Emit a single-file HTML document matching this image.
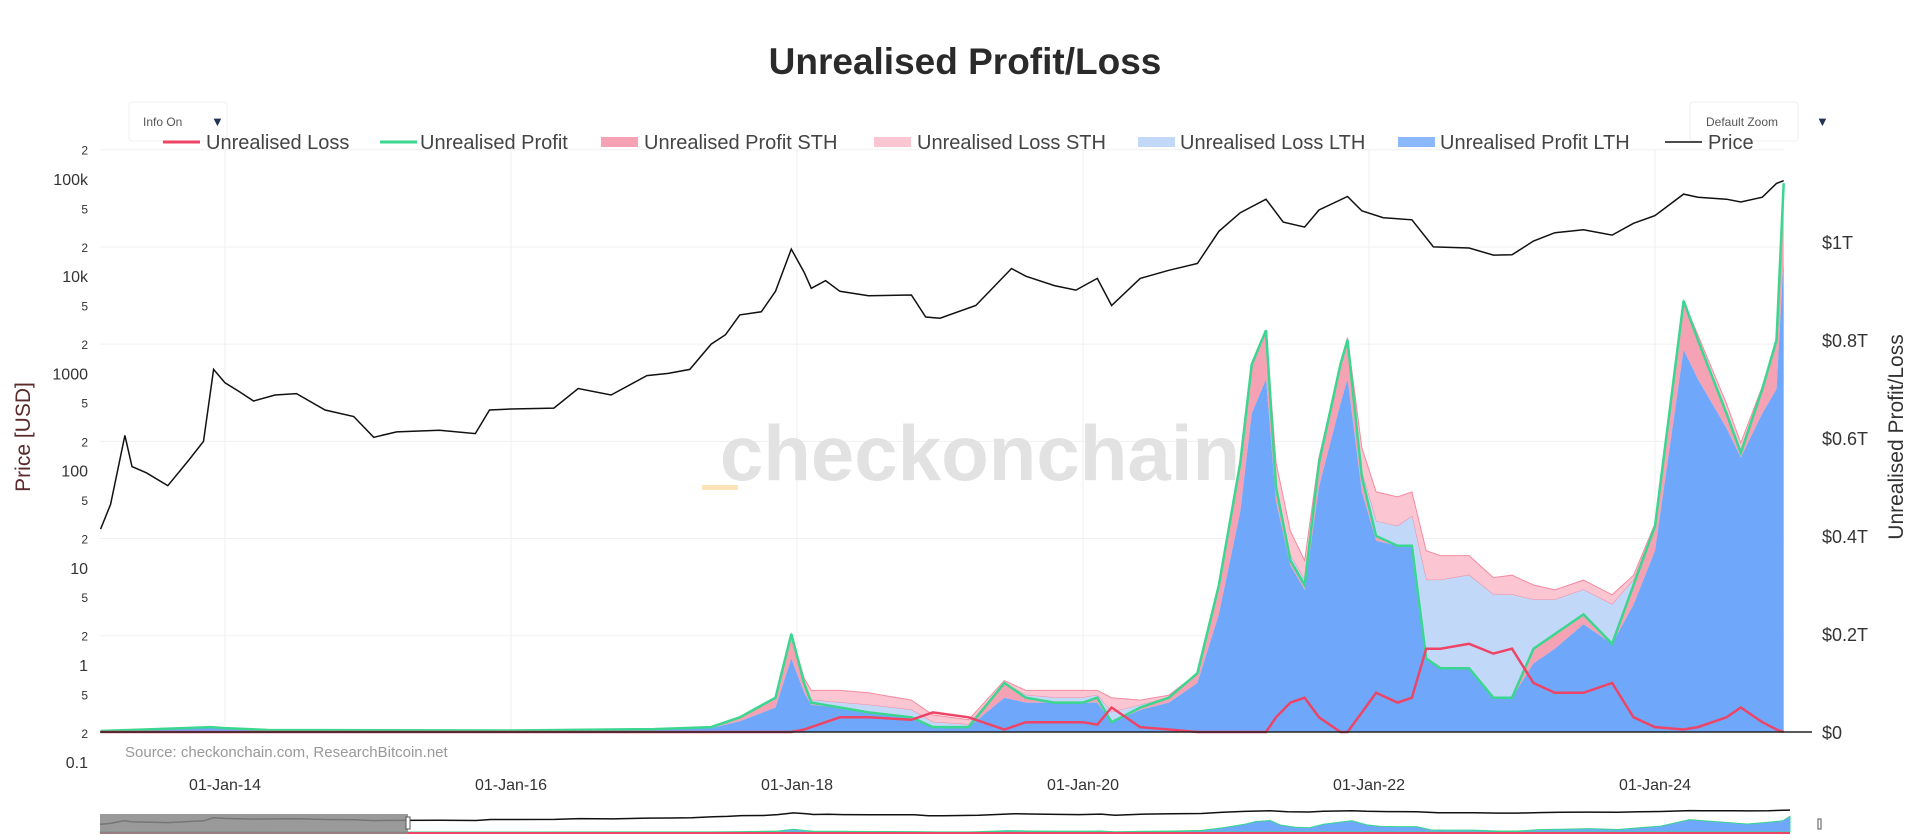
<!DOCTYPE html>
<html><head><meta charset="utf-8">
<style>
html,body{margin:0;padding:0;background:#fff;}
svg{display:block;font-family:"Liberation Sans",sans-serif;}
</style></head>
<body>
<svg id="chart" width="1920" height="840" viewBox="0 0 1920 840">
<text x="965" y="74" text-anchor="middle" font-size="37" font-weight="bold" fill="#2a2a2a">Unrealised Profit/Loss</text>
<g id="grid"></g>
<text x="980" y="480" text-anchor="middle" font-size="78" font-weight="bold" fill="#e2e2e2">checkonchain</text>
<rect x="702" y="485" width="36" height="5" fill="#fde3b8"/>
<g id="areas"></g>
<g id="lines"></g>
<g id="axes"></g>
<text x="125" y="757" font-size="15" fill="#999">Source: checkonchain.com, ResearchBitcoin.net</text>
<text transform="translate(30,437) rotate(-90)" text-anchor="middle" font-size="21" fill="#5a2a2a">Price [USD]</text>
<text transform="translate(1903,437) rotate(-90)" text-anchor="middle" font-size="21" fill="#333">Unrealised Profit/Loss</text>
<g>
<rect x="129" y="102" width="98" height="39" rx="3" fill="#fff" stroke="#f0f0f0"/>
<text x="143" y="126" font-size="12" fill="#555">Info On</text>
<text x="211" y="126" font-size="13" fill="#223355">▼</text>
</g>
<g>
<rect x="1690" y="102" width="108" height="39" rx="3" fill="#fff" stroke="#f0f0f0"/>
<text x="1706" y="126" font-size="12" fill="#555">Default Zoom</text>
<text x="1816" y="126" font-size="13" fill="#223355">▼</text>
</g>
<g id="legend"></g>
<g id="slider"></g>
</svg>
<script>
const priceDates=[2013.13,2013.2,2013.3,2013.35,2013.45,2013.6,2013.75,2013.85,2013.92,2014.0,2014.1,2014.2,2014.35,2014.5,2014.7,2014.9,2015.04,2015.2,2015.5,2015.75,2015.85,2016.0,2016.3,2016.47,2016.7,2016.95,2017.1,2017.25,2017.4,2017.5,2017.6,2017.75,2017.85,2017.96,2018.05,2018.1,2018.2,2018.3,2018.5,2018.8,2018.9,2019.0,2019.25,2019.5,2019.6,2019.8,2019.95,2020.1,2020.2,2020.4,2020.6,2020.8,2020.95,2021.1,2021.28,2021.4,2021.55,2021.65,2021.85,2021.95,2022.1,2022.3,2022.45,2022.7,2022.87,2023.0,2023.15,2023.3,2023.5,2023.7,2023.85,2024.0,2024.2,2024.3,2024.5,2024.6,2024.75,2024.85,2024.9];
const priceValues=[25,45,230,110,95,70,130,200,1100,800,650,520,600,620,420,360,220,250,260,240,420,430,440,700,600,950,1000,1100,2000,2500,4000,4300,7000,19000,11000,7500,9000,7000,6300,6400,3800,3700,5000,12000,10000,8000,7200,9500,5000,9500,11500,13500,29000,45000,62000,36000,32000,48000,66000,47000,40000,38000,20000,19500,16500,16600,23000,28000,30000,26500,35000,42000,70000,65000,62000,58000,65000,90000,96000];
const dates=[2013.13,2013.9,2014.0,2014.3,2016.0,2017.0,2017.4,2017.6,2017.85,2017.96,2018.05,2018.1,2018.3,2018.5,2018.8,2018.95,2019.2,2019.45,2019.6,2019.8,2020.0,2020.1,2020.2,2020.4,2020.6,2020.8,2020.95,2021.1,2021.18,2021.28,2021.35,2021.45,2021.55,2021.65,2021.8,2021.85,2021.95,2022.05,2022.2,2022.3,2022.4,2022.5,2022.7,2022.87,2023.0,2023.15,2023.3,2023.5,2023.7,2023.85,2024.0,2024.2,2024.3,2024.5,2024.6,2024.75,2024.85,2024.9];
const profit=[0.002,0.01,0.008,0.004,0.003,0.006,0.01,0.03,0.07,0.2,0.1,0.06,0.05,0.04,0.03,0.01,0.01,0.1,0.07,0.06,0.06,0.07,0.02,0.05,0.07,0.12,0.3,0.55,0.75,0.82,0.5,0.35,0.3,0.55,0.75,0.8,0.52,0.4,0.38,0.38,0.15,0.13,0.13,0.07,0.07,0.17,0.2,0.24,0.18,0.3,0.42,0.88,0.8,0.65,0.57,0.7,0.8,1.12];
const profitSTH=[0,0.002,0.002,0,0,0,0.002,0.008,0.02,0.05,0.02,0.005,0,0,0,0,0,0.03,0.01,0,0,0.01,0,0.005,0.01,0.02,0.06,0.1,0.1,0.1,0.03,0.01,0.01,0.05,0.08,0.08,0.03,0.01,0,0,0,0,0,0,0,0.03,0.03,0.02,0,0.04,0.05,0.1,0.08,0.03,0.01,0.05,0.1,0.15];
const lossLTH=[0,0,0,0,0,0,0,0,0,0,0,0.005,0.01,0.015,0.015,0.01,0.005,0,0.005,0.01,0.01,0.005,0.02,0.005,0,0,0,0,0,0,0,0.01,0.01,0,0,0,0.01,0.03,0.04,0.06,0.16,0.18,0.19,0.21,0.21,0.1,0.07,0.05,0.08,0.01,0,0,0,0,0,0,0,0];
const lossSTH=[0,0,0,0,0,0,0,0,0,0,0.01,0.02,0.025,0.025,0.02,0.015,0.01,0.005,0.01,0.015,0.015,0.01,0.03,0.01,0.005,0,0,0,0,0,0.05,0.05,0.04,0.01,0,0.005,0.05,0.06,0.06,0.05,0.06,0.05,0.04,0.035,0.04,0.03,0.02,0.02,0.02,0.01,0.005,0,0.01,0.02,0.02,0.005,0,0];
const loss=[0,0,0,0,0,0,0,0,0,0,0.005,0.01,0.03,0.03,0.025,0.04,0.03,0.005,0.02,0.02,0.02,0.015,0.05,0.01,0.005,0,0,0,0,0,0.03,0.06,0.07,0.03,0,0,0.04,0.08,0.06,0.07,0.17,0.17,0.18,0.16,0.17,0.1,0.08,0.08,0.1,0.03,0.01,0.005,0.01,0.03,0.05,0.02,0.005,0];
const xTickYears=[2014,2016,2018,2020,2022,2024];
const xTickLabels=["01-Jan-14","01-Jan-16","01-Jan-18","01-Jan-20","01-Jan-22","01-Jan-24"];
const rightTicks=[0,0.2,0.4,0.6,0.8,1];
const rightTickLabels=["$0","$0.2T","$0.4T","$0.6T","$0.8T","$1T"];
const leftDecades=[-1,0,1,2,3,4,5];
const leftDecadeLabels=["0.1","1","10","100","1000","10k","100k"];

const NS="http://www.w3.org/2000/svg";
const X0=100,X1=1784;
const xS=t=>225+143*(t-2014);
const yR=v=>732-490*v;
const yL=p=>665-97.2*Math.log10(p);
function mk(parent,tag,attrs){const e=document.createElementNS(NS,tag);for(const k in attrs)e.setAttribute(k,attrs[k]);parent.appendChild(e);return e;}
const grid=document.getElementById('grid'),areas=document.getElementById('areas'),lines=document.getElementById('lines'),axes=document.getElementById('axes');

// grid
xTickYears.forEach((yr,i)=>{
  const g=mk(grid,'line',{x1:xS(yr),x2:xS(yr),y1:150,y2:732,stroke:'#efefef'});
  
  
  const t=mk(axes,'text',{x:xS(yr),y:790,'text-anchor':'middle','font-size':16,fill:'#333'});
  t.textContent=xTickLabels[i];
  
  
});
leftDecades.forEach((d,i)=>{
  const y=yL(Math.pow(10,d));
  const t=mk(axes,'text',{x:88,y:y+6,'text-anchor':'end','font-size':16,fill:'#333'});
  t.textContent=leftDecadeLabels[i];
  
  
  [2,5].forEach(m=>{
    const v=m*Math.pow(10,d);const yy=yL(v);
    if(yy<148||yy>760)return;
    const s=mk(axes,'text',{x:88,y:yy+5,'text-anchor':'end','font-size':12,fill:'#333'});
    s.textContent=String(m);
    
    
  });
  if(d>=0){const gy=yL(2*Math.pow(10,d));
    const gl=mk(grid,'line',{x1:X0,x2:X1,y1:gy,y2:gy,stroke:'#f0f0f0'});
    
    }
});
rightTicks.forEach((v,i)=>{
  const t=mk(axes,'text',{x:1822,y:yR(v)+7,'font-size':18,fill:'#333'});
  t.textContent=rightTickLabels[i];
  
  
});
const zl=mk(axes,'line',{x1:X0,x2:1812,y1:732,y2:732,stroke:'#222','stroke-width':1.5});



// stacked areas
function bandPath(lo,hi,xf,yf){
  let d='M'+xf(dates[0])+','+yf(hi[0]);
  for(let i=1;i<dates.length;i++)d+='L'+xf(dates[i])+','+yf(hi[i]);
  for(let i=dates.length-1;i>=0;i--)d+='L'+xf(dates[i])+','+yf(lo[i]);
  return d+'Z';
}
const zero=dates.map(()=>0);
const pL=dates.map((_,i)=>profit[i]-profitSTH[i]);
const s2=profit.slice();
const s3=dates.map((_,i)=>profit[i]+lossLTH[i]);
const s4=dates.map((_,i)=>s3[i]+lossSTH[i]);
const a4=mk(areas,'path',{d:bandPath(s3,s4,xS,yR),fill:'#fbc6d2',stroke:'#f48aa0','stroke-width':1});


const a3=mk(areas,'path',{d:bandPath(s2,s3,xS,yR),fill:'#c2d8f8'});


const a2=mk(areas,'path',{d:bandPath(pL,s2,xS,yR),fill:'#f4a2b4'});


const a1=mk(areas,'path',{d:bandPath(zero,pL,xS,yR),fill:'#6fa8fb'});



function linePath(xs,ys,xf,yf){return xs.map((x,i)=>(i?'L':'M')+xf(x).toFixed(1)+','+yf(ys[i]).toFixed(1)).join('');}
const gLine=mk(lines,'path',{d:linePath(dates,profit,xS,yR),fill:'none',stroke:'#3bd68f','stroke-width':2.5});


const rLine=mk(lines,'path',{d:linePath(dates,loss,xS,yR),fill:'none',stroke:'#ee4466','stroke-width':2.5});


const pLine=mk(lines,'path',{d:linePath(priceDates,priceValues,xS,yL),fill:'none',stroke:'#111','stroke-width':1.5});



// legend
const legend=document.getElementById('legend');
const legItems=[["Unrealised Loss",163,206,'line','#ee4466'],["Unrealised Profit",380,420,'line','#3bd68f'],["Unrealised Profit STH",601,644,'rect','#f4a2b4'],["Unrealised Loss STH",874,917,'rect','#fbc6d2'],["Unrealised Loss LTH",1138,1180,'rect','#c2d8f8'],["Unrealised Profit LTH",1398,1440,'rect','#8ab8fb'],["Price",1665,1708,'line','#111']];
legItems.forEach(it=>{
  const g=mk(legend,'g',{});
  
  
  if(it[3]==='line')mk(g,'line',{x1:it[1],x2:it[1]+37,y1:142,y2:142,stroke:it[4],'stroke-width':it[0]==='Price'?1.5:3});
  else mk(g,'rect',{x:it[1],y:137,width:37,height:10,fill:it[4]});
  const t=mk(g,'text',{x:it[2],y:149,'font-size':20,fill:'#444'});t.textContent=it[0];
});

// range slider
const slider=document.getElementById('slider');
const sx=t=>100+(1790-100)*(t-2013.13)/(2024.9-2013.13);
const sy=v=>832-14*v;
const sp=t=>832-4*Math.log10(t)-2;
const sa=mk(slider,'path',{d:bandPath(zero,profit,sx,sy),fill:'#6fa8fb',stroke:'#3bd68f','stroke-width':1});


const sl=mk(slider,'path',{d:linePath(priceDates,priceValues,sx,t=>sp(t)),fill:'none',stroke:'#111','stroke-width':1.5});


const sb=mk(slider,'line',{x1:100,x2:1790,y1:833,y2:833,stroke:'#ee4466','stroke-width':2});


const mask=mk(slider,'rect',{x:100,y:814,width:308,height:20,fill:'#888','fill-opacity':0.85});


const h1=mk(slider,'rect',{x:406,y:817,width:4,height:12,fill:'#fff',stroke:'#555'});


const h2=mk(slider,'rect',{x:1818,y:819,width:3,height:10,fill:'#fff',stroke:'#555'});


</script>
</body></html>
